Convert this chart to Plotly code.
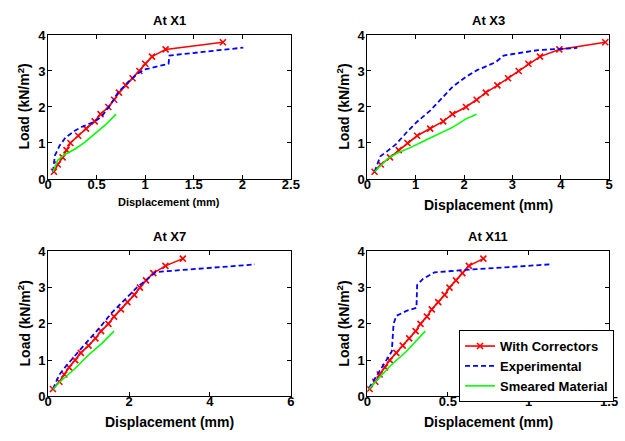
import plotly.graph_objects as go

# ---------------- data ----------------
load_corr = [0.2, 0.4, 0.6, 0.8, 1.0, 1.2, 1.4, 1.6, 1.8, 2.0,
             2.2, 2.4, 2.6, 2.8, 3.0, 3.2, 3.4, 3.6, 3.8]

# At X1
x1_corr_d = [0.06, 0.10, 0.15, 0.19, 0.23, 0.31, 0.39, 0.48, 0.54, 0.62,
             0.68, 0.73, 0.80, 0.87, 0.94, 1.00, 1.07, 1.21, 1.80]
x1_exp_d = [0.05, 0.07, 0.12, 0.18, 0.27, 0.35, 0.47, 0.55, 0.64, 0.72, 0.82, 0.91, 0.99, 1.24, 1.25, 2.01]
x1_exp_l = [0.20, 0.65, 0.93, 1.15, 1.33, 1.45, 1.58, 1.73, 2.05, 2.40, 2.68, 2.90, 3.04, 3.20, 3.43, 3.65]
x1_sm_d = [0.05, 0.10, 0.17, 0.27, 0.37, 0.47, 0.59, 0.70]
x1_sm_l = [0.20, 0.52, 0.68, 0.82, 1.00, 1.22, 1.50, 1.80]

# At X3
x3_corr_d = [0.15, 0.28, 0.47, 0.65, 0.83, 1.03, 1.30, 1.57, 1.76, 2.04,
             2.26, 2.45, 2.69, 2.91, 3.13, 3.33, 3.57, 3.97, 4.92]
x3_exp_d = [0.15, 0.27, 0.42, 0.59, 0.83, 1.03, 1.30, 1.57, 1.77, 2.04, 2.28, 2.65, 2.82, 3.53, 4.34]
x3_exp_l = [0.20, 0.63, 0.78, 0.96, 1.32, 1.59, 1.90, 2.30, 2.57, 2.84, 3.03, 3.24, 3.43, 3.58, 3.64]
x3_sm_d = [0.15, 0.42, 0.62, 0.89, 1.16, 1.50, 1.77, 2.04, 2.26]
x3_sm_l = [0.20, 0.56, 0.72, 0.87, 1.05, 1.28, 1.44, 1.67, 1.80]

# At X7
x7_corr_d = [0.12, 0.28, 0.40, 0.52, 0.67, 0.81, 1.00, 1.17, 1.31, 1.49,
             1.63, 1.80, 1.96, 2.13, 2.27, 2.42, 2.60, 2.90, 3.33]
x7_exp_d = [0.12, 0.28, 0.44, 0.64, 0.93, 1.25, 1.57, 1.89, 2.21, 2.42, 2.66, 5.11]
x7_exp_l = [0.20, 0.60, 0.83, 1.10, 1.46, 1.86, 2.30, 2.66, 3.02, 3.20, 3.43, 3.64]
x7_sm_d = [0.12, 0.36, 0.64, 1.00, 1.33, 1.63]
x7_sm_l = [0.20, 0.47, 0.74, 1.14, 1.46, 1.80]

# At X11
x11_corr_d = [0.015, 0.05, 0.077, 0.11, 0.14, 0.18, 0.22, 0.26, 0.30, 0.33,
              0.37, 0.40, 0.44, 0.48, 0.51, 0.55, 0.59, 0.63, 0.72]
x11_exp_d = [0.01, 0.08, 0.152, 0.163, 0.18, 0.244, 0.305, 0.309, 0.345, 0.416, 0.61, 1.13]
x11_exp_l = [0.22, 0.71, 1.24, 2.00, 2.22, 2.36, 2.44, 3.07, 3.24, 3.42, 3.49, 3.64]
x11_sm_d = [0.01, 0.14, 0.24, 0.36]
x11_sm_l = [0.20, 0.83, 1.23, 1.80]

titles = ["At X1", "At X3", "At X7", "At X11"]
x_ranges = [[0, 2.5], [0, 5], [0, 6], [0, 1.5]]
x_dticks = [0.5, 1, 2, 0.5]
y_range = [0, 4]
series_names = ["With Correctors", "Experimental", "Smeared Material"]

panels = [
    (x1_corr_d, x1_exp_d, x1_exp_l, x1_sm_d, x1_sm_l),
    (x3_corr_d, x3_exp_d, x3_exp_l, x3_sm_d, x3_sm_l),
    (x7_corr_d, x7_exp_d, x7_exp_l, x7_sm_d, x7_sm_l),
    (x11_corr_d, x11_exp_d, x11_exp_l, x11_sm_d, x11_sm_l),
]

# ---------------- layout geometry ----------------
W, H = 625, 441
px_boxes = [  # left, right, top, bottom in pixels
    (45, 293, 29, 178),
    (371, 618, 29, 178),
    (45, 293, 253, 403),
    (371, 618, 253, 403),
]

RED = "#ff0000"
BLUE = "#0000ff"
GREEN = "#00ff00"
FONT = "Liberation Sans, Arial, sans-serif"

fig = go.Figure()

for i, (cd, ed, el, sd, sl) in enumerate(panels):
    xa = "x" if i == 0 else f"x{i+1}"
    ya = "y" if i == 0 else f"y{i+1}"
    show = (i == 3)
    fig.add_trace(go.Scatter(
        x=cd, y=load_corr, xaxis=xa, yaxis=ya, mode="lines+markers",
        name=series_names[0], showlegend=show,
        line=dict(color=RED, width=1.6),
        marker=dict(symbol="x-thin-open", size=6, line=dict(color=RED, width=1.6)),
    ))
    fig.add_trace(go.Scatter(
        x=ed, y=el, xaxis=xa, yaxis=ya, mode="lines",
        name=series_names[1], showlegend=show,
        line=dict(color=BLUE, width=1.8, dash="5px,3px"),
    ))
    fig.add_trace(go.Scatter(
        x=sd, y=sl, xaxis=xa, yaxis=ya, mode="lines",
        name=series_names[2], showlegend=show,
        line=dict(color=GREEN, width=1.6),
    ))

layout = dict(
    width=W, height=H,
    margin=dict(l=0, r=0, t=0, b=0),
    paper_bgcolor="white", plot_bgcolor="white",
    font=dict(family=FONT, color="black", size=12),
    showlegend=True,
    legend=dict(
        x=623 / W, y=1 - 409 / H, xanchor="right", yanchor="bottom",
        bgcolor="white", bordercolor="black", borderwidth=1,
        font=dict(family=FONT, size=13, color="black", weight="bold"),
        tracegroupgap=0, itemwidth=30,
    ),
)

annotations = []
for i, (l, r, t, b) in enumerate(px_boxes):
    xk = "xaxis" if i == 0 else f"xaxis{i+1}"
    yk = "yaxis" if i == 0 else f"yaxis{i+1}"
    ya_ref = "y" if i == 0 else f"y{i+1}"
    xa_ref = "x" if i == 0 else f"x{i+1}"
    common = dict(
        showline=True, linecolor="black", linewidth=1, mirror="ticks",
        ticks="inside", ticklen=4, tickcolor="black", tickwidth=1,
        showgrid=False, zeroline=False,
        tickfont=dict(family=FONT, size=13, color="black", weight="bold"),
    )
    layout[xk] = dict(domain=[l / W, r / W], anchor=ya_ref, range=x_ranges[i],
                      dtick=x_dticks[i], tick0=0, ticklabelstandoff=-7, **common)
    layout[yk] = dict(domain=[1 - b / H, 1 - t / H], anchor=xa_ref, range=y_range,
                      dtick=1, tick0=0, ticklabelstandoff=-1, **common)
    cx = (l + r) / 2
    annotations.append(dict(
        text=f"<b>{titles[i]}</b>", x=cx / W, y=1 - (t - 15) / H,
        xref="paper", yref="paper", showarrow=False,
        font=dict(family=FONT, size=13, color="black"), xanchor="center", yanchor="middle"))
    xl_size = 11 if i == 0 else 14
    xl_y = b + (24 if i == 0 else 27)
    annotations.append(dict(
        text="<b>Displacement (mm)</b>", x=cx / W, y=1 - xl_y / H,
        xref="paper", yref="paper", showarrow=False,
        font=dict(family=FONT, size=xl_size, color="black"), xanchor="center", yanchor="middle"))
    annotations.append(dict(
        text="<b>Load (kN/m<sup>2</sup>)</b>", x=(l - 25) / W, y=1 - ((t + b) / 2) / H,
        xref="paper", yref="paper", showarrow=False, textangle=-90,
        font=dict(family=FONT, size=14, color="black"), xanchor="center", yanchor="middle"))

layout["annotations"] = annotations
fig.update_layout(**layout)
fig.write_html("out.html")
